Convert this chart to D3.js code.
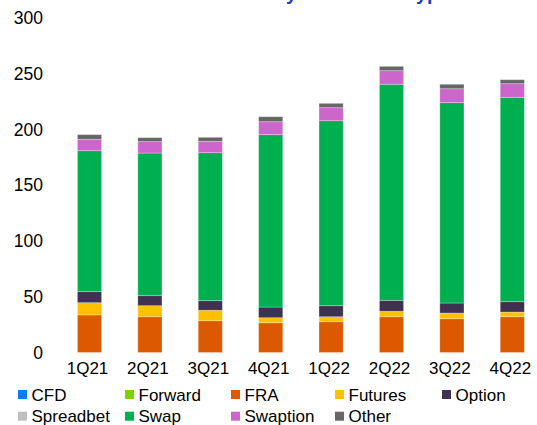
<!DOCTYPE html>
<html><head><meta charset="utf-8">
<script src="https://cdn.jsdelivr.net/npm/d3@7"></script>
<style>body{margin:0;background:#fff}svg{display:block}text{font-family:Arial,"Liberation Sans",sans-serif}</style>
</head><body><svg id="c" width="537" height="425"></svg>
<script>
const quarters = ["1Q21","2Q21","3Q21","4Q21","1Q22","2Q22","3Q22","4Q22"];
const seriesNames = ["CFD","Forward","FRA","Futures","Option","Spreadbet","Swap","Swaption","Other"];
const seriesColors = ["#0a7cf5","#7fd000","#dc5900","#ffc000","#3f3151","#bfbfbf","#00b050","#cc66cc","#666666"];
const CFD       = [0,0,0,0,0,0,0,0];
const Forward   = [0,0,0,0,0,0,0,0];
const FRA       = [33.7,32.1,28.5,26.7,27.6,32.1,30.3,32.1];
const Futures   = [11.0,9.9,9.4,4.5,4.5,4.9,5.1,4.2];
const Option    = [9.9,9.0,8.6,9.6,9.9,9.8,9.0,9.3];
const Spreadbet = [0,0,0,0,0,0,0,0];
const Swap      = [126.5,128.0,132.8,154.7,166.0,193.9,179.8,183.4];
const Swaption  = [10.2,10.2,10.2,11.6,11.7,12.2,12.5,12.2];
const Other     = [4.2,3.6,3.6,4.5,3.9,3.9,4.0,3.6];
const yTicks = [0,50,100,150,200,250,300];
const titleText = "Notional volume by instrument type";

const seriesValues = [CFD,Forward,FRA,Futures,Option,Spreadbet,Swap,Swaption,Other];
const rows = quarters.map((q,i)=>{const r={q};seriesNames.forEach((s,j)=>r[s]=seriesValues[j][i]);return r;});
const stacked = d3.stack().keys(seriesNames)(rows);

const svg = d3.select("#c");
const x = d3.scaleBand().domain(quarters).range([59.3,542.5]).paddingInner(0.6).paddingOuter(0.3);
const y = d3.scaleLinear().domain([0,300]).range([352.5,18.2]);
const color = d3.scaleOrdinal().domain(seriesNames).range(seriesColors);

// title, clipped by the top edge (only descenders show)
const title = svg.append("text").attr("font-size",20).attr("font-weight","bold")
  .attr("fill","#1c3fae").text(titleText);
const i1 = titleText.indexOf("by ")+1, i2 = titleText.lastIndexOf("type")+1;
const n = title.node();
const d20 = n.getStartPositionOfChar(i2).x - n.getStartPositionOfChar(i1).x;
const fs = 20*130/d20;
title.attr("font-size",fs).attr("y",4-0.21*fs);
title.attr("x",286-n.getStartPositionOfChar(i1).x);

svg.append("g").selectAll("g").data(stacked).join("g").attr("fill",d=>color(d.key))
  .selectAll("rect").data(d=>d).join("rect")
  .attr("x",d=>x(d.data.q)).attr("width",x.bandwidth())
  .attr("y",d=>y(d[1])).attr("height",d=>y(d[0])-y(d[1]))
  .attr("stroke","#ffffff").attr("stroke-opacity",0.35).attr("stroke-width",0.8);

const ya = svg.append("g").attr("transform","translate(43,0)")
  .call(d3.axisLeft(y).tickValues(yTicks).tickSize(0).tickPadding(0));
ya.select(".domain").remove();
ya.selectAll("text").attr("font-size",17.5).attr("fill","#000").attr("font-family","Arial, 'Liberation Sans', sans-serif");

const xa = svg.append("g").attr("transform","translate(-2,352.5)")
  .call(d3.axisBottom(x).tickSize(0).tickPadding(9));
xa.select(".domain").remove();
xa.selectAll("text").attr("font-size",17).attr("fill","#000").attr("font-family","Arial, 'Liberation Sans', sans-serif");

// legend
const colX = [18,125,231,335,442];
const leg = svg.append("g");
seriesNames.forEach((s,i)=>{
  const cx = colX[i%5], cy = i<5 ? 390 : 411.7;
  leg.append("rect").attr("x",cx).attr("y",cy).attr("width",9).attr("height",9).attr("fill",color(s));
  leg.append("text").attr("x",cx+13.5).attr("y",cy+10.5).attr("font-size",17).attr("fill","#000").text(s);
});
</script></body></html>
